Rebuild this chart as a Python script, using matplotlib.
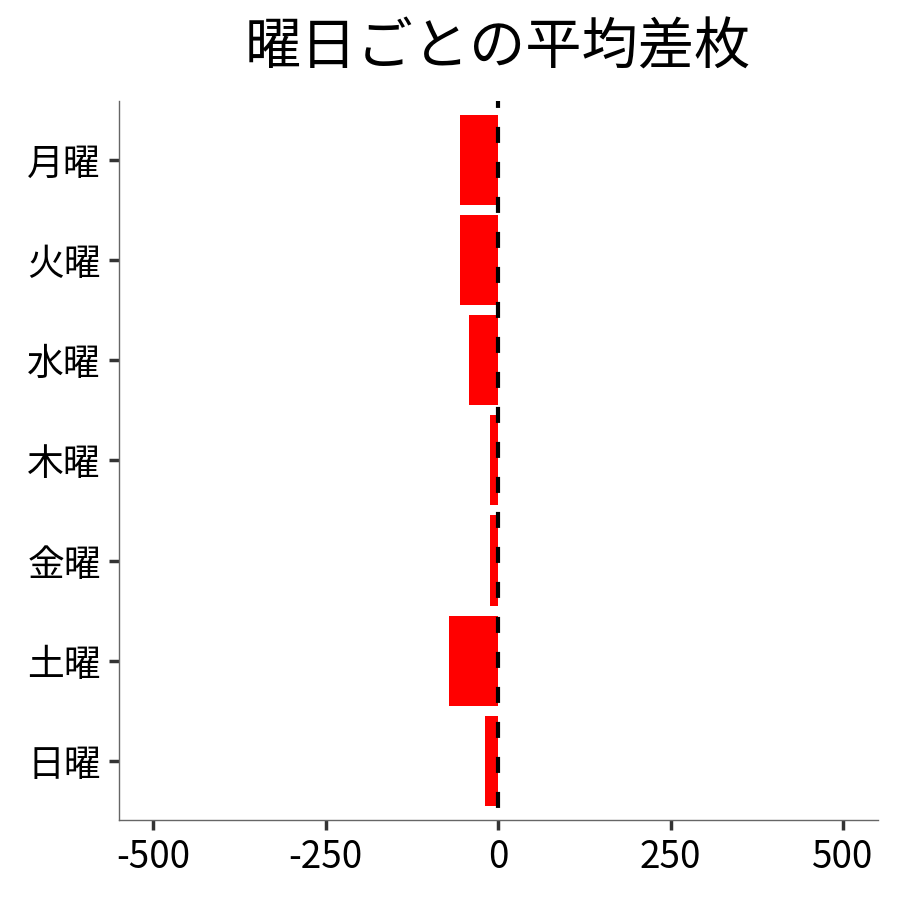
import matplotlib
matplotlib.use("Agg")
import matplotlib.pyplot as plt

plt.rcParams['font.family'] = ['Noto Sans CJK JP', 'DejaVu Sans']

days = ["月曜", "火曜", "水曜", "木曜", "金曜", "土曜", "日曜"]
avg_diff = [-55, -56, -42, -12, -12, -71, -19]
x_ticks = [-500, -250, 0, 250, 500]
x_labels = ["-500", "-250", "0", "250", "500"]

fig = plt.figure(figsize=(9, 9), dpi=100)
ax = fig.add_axes([0.132, 0.089, 0.843, 0.799])

ax.barh(range(len(days)), avg_diff, height=0.9, color="#ff0000")
# dashed zero line
ax.axvline(0, color="black", linestyle=(5.5, (3.84, 4.56)), linewidth=3, zorder=3)

ax.set_yticks(range(len(days)))
ax.set_yticklabels(days)
ax.set_ylim(len(days) - 1 + 0.59, -0.59)
ax.set_xticks(x_ticks)
ax.set_xticklabels(x_labels)
ax.set_xlim(-550, 550)

for side in ["top", "right"]:
    ax.spines[side].set_visible(False)
for side in ["left", "bottom"]:
    ax.spines[side].set_color("#666666")
    ax.spines[side].set_linewidth(1)
ax.tick_params(axis="both", labelsize=26.5, length=7, width=2.5, color="#333333", pad=6)

pos = ax.get_position()
fig.text((pos.x0 + pos.x1) / 2, 0.946, "曜日ごとの平均差枚", ha="center", va="center", fontsize=40.5)

fig.savefig("out.png", dpi=100)
